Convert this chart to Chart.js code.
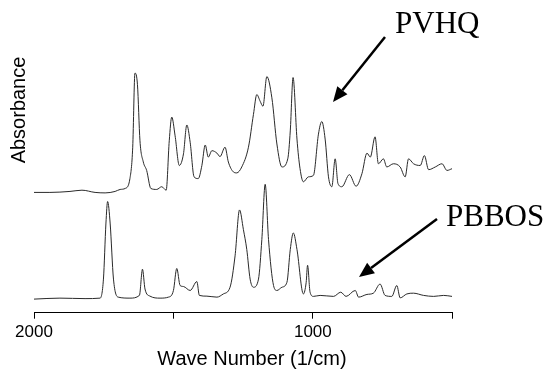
<!DOCTYPE html>
<html>
<head>
<meta charset="utf-8">
<script src="https://cdn.jsdelivr.net/npm/chart.js@4.4.0/dist/chart.umd.min.js"></script>
<style>
  html, body { margin: 0; padding: 0; background: #ffffff; }
  #c { display: block; }
</style>
</head>
<body>
<canvas id="c" width="548" height="375"></canvas>
<script>
// Wave numbers (1/cm) and absorbance (stacked, arbitrary units)
const pvhqWave = [2000,1943,1871,1828,1781,1745,1709,1691,1673,1656,1646,1638,1629,1620,1608,1596,1581,1560,1542,1526,
  1515,1506,1494,1479,1464,1452,1440,1426,1411,1398,1386,1375,1362,1344,1333,1315,1303,1285,1273,1255,
  1231,1213,1201,1189,1179,1165,1147,1129,1111,1090,1081,1071,1057,1046,1034,1016,998,980,968,956,
  944,932,920,910,896,869,845,824,806,794,777,765,747,735,711,687,669,657,639,615,600,585,561,537,519,501];
const pvhqAbs = [0.487,0.487,0.491,0.496,0.487,0.485,0.491,0.499,0.503,0.543,0.670,0.970,0.923,0.696,0.610,0.576,0.503,0.499,0.510,0.496,
  0.696,0.792,0.716,0.596,0.643,0.760,0.690,0.550,0.543,0.596,0.679,0.630,0.656,0.646,0.632,0.670,0.610,0.570,0.566,0.590,
  0.670,0.803,0.883,0.856,0.836,0.956,0.870,0.683,0.590,0.623,0.736,0.952,0.703,0.583,0.530,0.550,0.556,0.723,0.774,0.703,
  0.550,0.510,0.623,0.523,0.510,0.559,0.512,0.563,0.646,0.630,0.712,0.603,0.623,0.590,0.603,0.590,0.550,0.623,0.603,0.596,0.636,0.579,0.590,0.603,0.576,0.583];

const pbbosWave = [2000,1907,1817,1763,1751,1742,1736,1727,1715,1698,1656,1622,1611,1602,1584,1548,1518,1500,1488,1476,
  1464,1440,1416,1407,1380,1344,1321,1297,1279,1263,1249,1237,1225,1213,1195,1183,1171,1159,1141,1129,
  1111,1093,1081,1070,1057,1034,1024,1019,1010,998,974,926,900,881,848,836,806,783,759,741,
  717,699,687,663,639,603,567,531,501];
const pbbosAbs = [0.055,0.059,0.057,0.059,0.136,0.363,0.450,0.363,0.136,0.063,0.059,0.070,0.176,0.096,0.067,0.059,0.063,0.090,0.179,0.110,
  0.106,0.090,0.126,0.070,0.067,0.063,0.076,0.103,0.230,0.416,0.336,0.256,0.136,0.103,0.136,0.296,0.520,0.296,0.110,0.090,
  0.103,0.123,0.256,0.323,0.256,0.076,0.123,0.192,0.083,0.066,0.070,0.066,0.083,0.066,0.090,0.063,0.074,0.079,0.116,0.070,
  0.066,0.110,0.060,0.076,0.079,0.070,0.066,0.070,0.066];

const xTicksLabelled = [2000, 1000];
const xMin = 500, xMax = 2000, yMin = 0, yMax = 1;
const seriesNames = ['PVHQ', 'PBBOS'];
const xTitle = 'Wave Number (1/cm)';
const yTitle = 'Absorbance';

const toPoints = (xs, ys) => xs.map((x, i) => ({ x: x, y: ys[i] }));

const annotations = {
  id: 'annotations',
  afterDraw(chart) {
    const ctx = chart.ctx;
    ctx.save();
    ctx.fillStyle = '#000';
    ctx.strokeStyle = '#000';
    // series labels
    ctx.font = '31px "Liberation Serif", "Times New Roman", serif';
    ctx.textBaseline = 'alphabetic';
    ctx.textAlign = 'left';
    ctx.fillText(seriesNames[0], 395, 33);
    ctx.fillText(seriesNames[1], 446, 226);
    // arrows
    const arrow = (x1, y1, x2, y2) => {
      const ang = Math.atan2(y2 - y1, x2 - x1);
      const hl = 15, hw = 6.5;
      const bx = x2 - hl * Math.cos(ang), by = y2 - hl * Math.sin(ang);
      ctx.lineWidth = 2.5;
      ctx.beginPath();
      ctx.moveTo(x1, y1);
      ctx.lineTo(bx, by);
      ctx.stroke();
      ctx.beginPath();
      ctx.moveTo(x2, y2);
      ctx.lineTo(bx + hw * Math.sin(ang), by - hw * Math.cos(ang));
      ctx.lineTo(bx - hw * Math.sin(ang), by + hw * Math.cos(ang));
      ctx.closePath();
      ctx.fill();
    };
    arrow(385, 37, 333, 102);
    arrow(437, 219, 359, 277);
    // axis titles
    ctx.font = '20px "Liberation Sans", Arial, sans-serif';
    ctx.textAlign = 'center';
    ctx.fillText(xTitle, 252, 365);
    ctx.translate(25, 110);
    ctx.rotate(-Math.PI / 2);
    ctx.fillText(yTitle, 0, 0);
    ctx.restore();
  }
};

new Chart(document.getElementById('c'), {
  type: 'line',
  data: {
    datasets: [
      { label: seriesNames[0], data: toPoints(pvhqWave, pvhqAbs) },
      { label: seriesNames[1], data: toPoints(pbbosWave, pbbosAbs) }
    ].map(d => Object.assign(d, {
      borderColor: '#2a2a2a', borderWidth: 1, pointRadius: 0, fill: false,
      cubicInterpolationMode: 'monotone'
    }))
  },
  options: {
    responsive: false,
    animation: false,
    devicePixelRatio: 1,
    layout: { padding: { left: 34, right: 95.7, top: 65.7, bottom: 29.9 } },
    plugins: { legend: { display: false }, tooltip: { enabled: false } },
    scales: {
      x: {
        type: 'linear', reverse: true, min: xMin, max: xMax,
        border: { display: true, color: '#000', width: 1 },
        grid: { display: true, drawOnChartArea: false, drawTicks: true, tickLength: 6, color: '#000', lineWidth: 1 },
        ticks: {
          stepSize: 500, padding: 3, color: '#000', maxRotation: 0, autoSkip: false,
          font: { family: '"Liberation Sans", Arial, sans-serif', size: 17 },
          callback: v => xTicksLabelled.includes(v) ? String(v) : ''
        }
      },
      y: { display: false, min: yMin, max: yMax }
    }
  },
  plugins: [annotations]
});
</script>
</body>
</html>
